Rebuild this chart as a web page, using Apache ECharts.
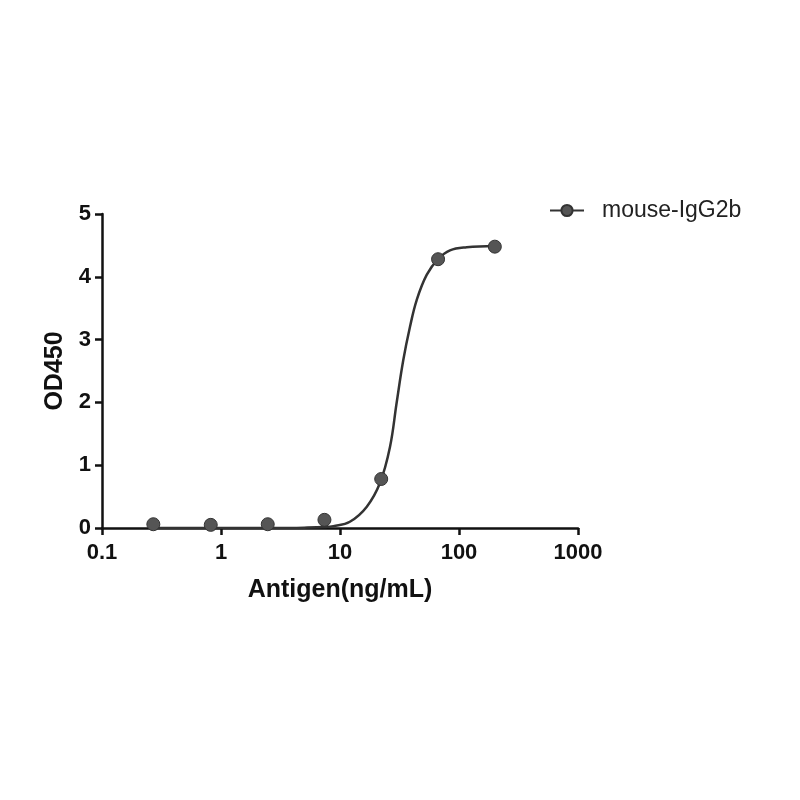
<!DOCTYPE html>
<html>
<head>
<meta charset="utf-8">
<script src="https://cdn.jsdelivr.net/npm/echarts@6/dist/echarts.min.js"></script>
<style>
  html, body { margin: 0; padding: 0; background: #fff; }
  #main { width: 800px; height: 800px; }
</style>
</head>
<body>
<div id="main"></div>
<script>
var seriesName = 'mouse-IgG2b';
// measured points (ng/mL, OD450)
var conc = [0.27, 0.82, 2.47, 7.4, 22.2, 66.7, 200];
var od = [0.06, 0.05, 0.06, 0.13, 0.78, 4.28, 4.48];
// fitted curve
var fitConc = [0.27, 1, 3, 5, 7.4, 8.8, 12.1, 16.8, 21.7, 26.3, 29.9, 34.0, 38.7, 44.1, 53.5, 66.7, 84, 116, 200];
var fitOd = [0.0, 0.0, 0.0, 0.005, 0.015, 0.03, 0.10, 0.34, 0.72, 1.29, 1.99, 2.67, 3.20, 3.63, 4.03, 4.28, 4.42, 4.47, 4.49];
var yTicks = [0, 1, 2, 3, 4, 5];

var chart = echarts.init(document.getElementById('main'));

var pts = conc.map(function (c, i) { return [c, od[i]]; });
var fit = fitConc.map(function (c, i) { return [c, fitOd[i]]; });

var labelFont = { fontFamily: 'Liberation Sans', fontWeight: 'bold', fontSize: 22, color: '#111' };
var titleFont = { fontFamily: 'Liberation Sans', fontWeight: 'bold', fontSize: 25, color: '#111' };

var option = {
  animation: false,
  grid: { left: 102, right: 222, top: 214, bottom: 272 },
  legend: {
    left: 544, top: 194,
    itemWidth: 34, itemHeight: 14,
    textStyle: { fontFamily: 'Liberation Sans', fontSize: 23, color: '#222', padding: [0, 0, 0, 13] },
    data: [seriesName]
  },
  xAxis: {
    type: 'log',
    logBase: 10,
    min: 0.1,
    max: 1000,
    name: 'Antigen(ng/mL)',
    nameLocation: 'middle',
    nameGap: 50,
    nameTextStyle: titleFont,
    axisLine: { lineStyle: { color: '#111', width: 2.5 } },
    axisTick: { length: 7, lineStyle: { color: '#111', width: 2.5 } },
    axisLabel: Object.assign({ margin: 14, formatter: function (v) { return String(+v.toPrecision(3)); } }, labelFont),
    minorTick: { show: false },
    splitLine: { show: false }
  },
  yAxis: {
    type: 'value',
    min: yTicks[0],
    max: yTicks[yTicks.length - 1],
    interval: 1,
    name: 'OD450',
    nameLocation: 'middle',
    nameGap: 34,
    nameTextStyle: titleFont,
    axisLine: { show: true, lineStyle: { color: '#111', width: 2.5 } },
    axisTick: { show: true, length: 7, lineStyle: { color: '#111', width: 2.5 } },
    axisLabel: Object.assign({ margin: 11 }, labelFont),
    splitLine: { show: false }
  },
  series: [
    {
      name: seriesName,
      type: 'line',
      data: fit,
      smooth: 0.4,
      symbol: 'circle',
      symbolSize: 13,
      showSymbol: false,
      lineStyle: { color: '#333', width: 2.5 },
      itemStyle: { color: '#555', borderColor: '#333', borderWidth: 1 },
      z: 2
    },
    {
      name: seriesName,
      type: 'scatter',
      data: pts,
      symbol: 'circle',
      symbolSize: 13,
      itemStyle: { color: '#555', borderColor: '#333', borderWidth: 1, opacity: 1 },
      z: 3
    }
  ]
};
option && chart.setOption(option);
</script>
</body>
</html>
